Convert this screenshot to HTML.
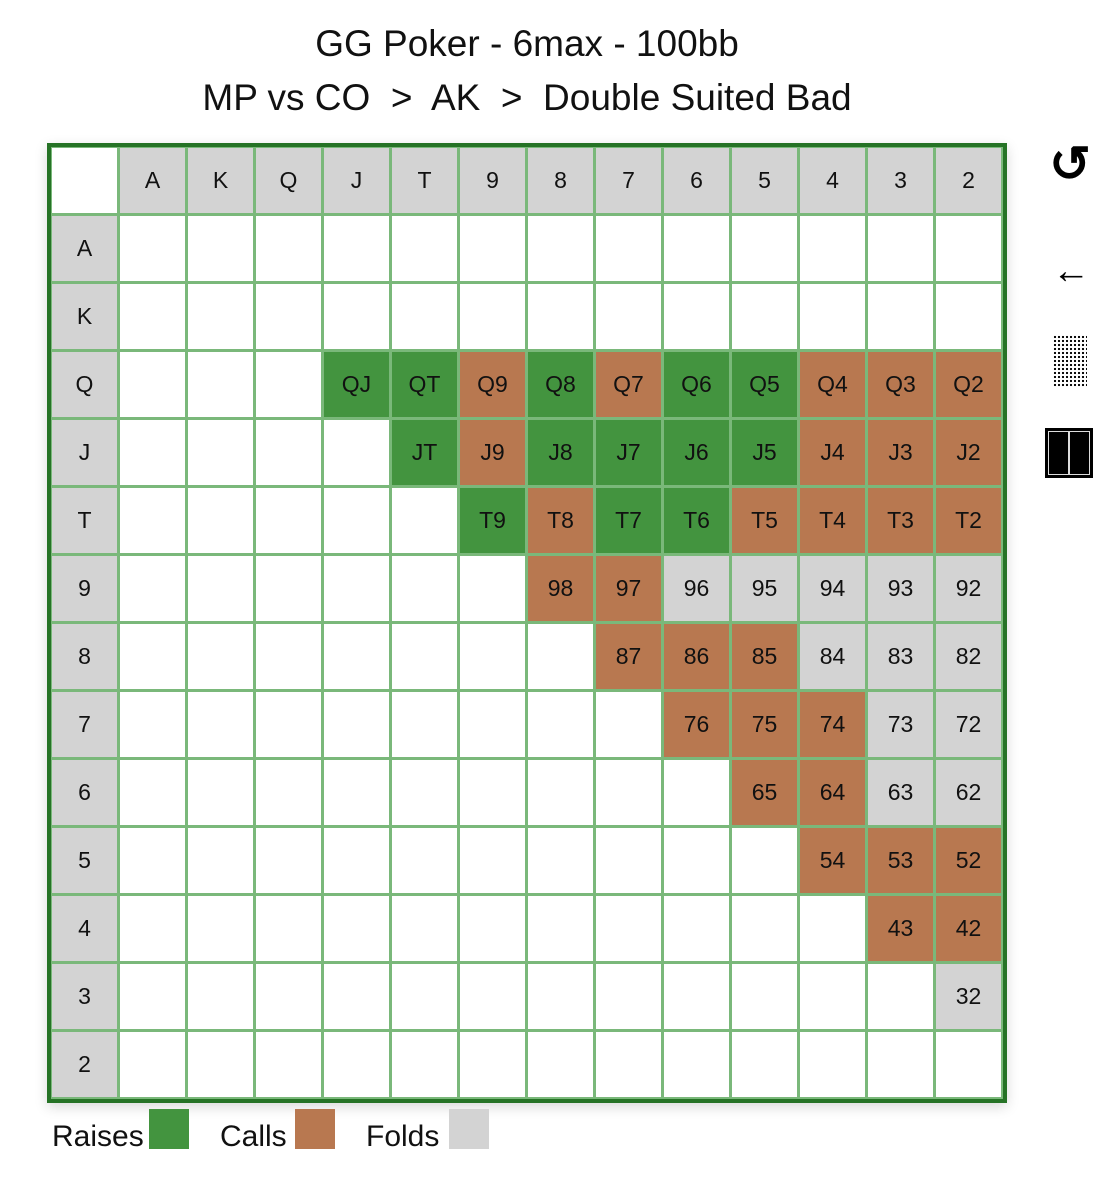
<!DOCTYPE html>
<html><head><meta charset="utf-8"><style>
body{margin:0;width:1112px;height:1178px;background:#fff;font-family:"Liberation Sans",sans-serif;position:relative;overflow:hidden}
.t{position:absolute;left:0;width:1054px;text-align:center;font-size:37px;color:#111}
#grid{position:absolute;left:47px;top:143px;width:952px;height:952px;border:4px solid #267326;background:#7ab87a;box-shadow:0 4px 12px rgba(0,0,0,0.15)}
.c{position:absolute;width:65px;height:65px;display:flex;align-items:center;justify-content:center;font-size:23px;color:#111}
.lg{position:absolute;font-size:30px;color:#111}
.sq{position:absolute;width:40px;height:40px;top:1109px}
</style></head><body>
<div class="t" style="top:23px">GG Poker - 6max - 100bb</div>
<div class="t" style="top:77px">MP vs CO &nbsp;&gt;&nbsp; AK &nbsp;&gt;&nbsp; Double Suited Bad</div>
<div id="grid"></div>
<div style="position:absolute;left:1049px;top:134px;font-size:50px;font-weight:bold;line-height:60px">↺</div>
<div style="position:absolute;left:1052px;top:250px;font-size:38px">←</div>
<div style="position:absolute;left:1053px;top:335px;width:34px;height:52px;background-image:radial-gradient(#000 1px,transparent 1.3px);background-size:4px 4px"></div>
<div style="position:absolute;left:1045px;top:428px;width:48px;height:50px;background:#000"><div style="position:absolute;left:3px;top:3px;width:40px;height:42px;border:1px solid #ddd"></div><div style="position:absolute;left:23px;top:3px;width:2px;height:44px;background:#ddd"></div></div>
<div class="lg" style="left:52px;top:1120px">Raises</div>
<div class="sq" style="left:149px;background:#43943f"></div>
<div class="lg" style="left:220px;top:1120px">Calls</div>
<div class="sq" style="left:295px;background:#b87850"></div>
<div class="lg" style="left:366px;top:1120px">Folds</div>
<div class="sq" style="left:449px;background:#d3d3d3"></div>
<script>
const ranks=["A","K","Q","J","T","9","8","7","6","5","4","3","2"];
const raises=["QJ","QT","Q8","Q6","Q5","JT","J8","J7","J6","J5","T9","T7","T6"];
const calls=["Q9","Q7","Q4","Q3","Q2","J9","J4","J3","J2","T8","T5","T4","T3","T2","98","97","87","86","85","76","75","74","65","64","54","53","52","43","42"];
const folds=["96","95","94","93","92","84","83","82","73","72","63","62","32"];
const g=document.getElementById('grid');
function cell(r,c,txt,bg,name){
  const d=document.createElement('div');
  d.className='c';
  d.style.left=(1+68*c)+'px';d.style.top=(1+68*r)+'px';d.style.background=bg;
  d.textContent=txt;
  
  
  g.appendChild(d);
}
cell(0,0,'','#fff','corner-cell');
ranks.forEach((k,i)=>{cell(0,i+1,k,'#d3d3d3','col-header-'+k);cell(i+1,0,k,'#d3d3d3','row-header-'+k);});
for(let i=0;i<13;i++)for(let j=0;j<13;j++){
  const h=ranks[i]+ranks[j];
  let bg='#fff',txt='';
  if(raises.includes(h)){bg='#43943f';txt=h;}
  else if(calls.includes(h)){bg='#b87850';txt=h;}
  else if(folds.includes(h)){bg='#d3d3d3';txt=h;}
  const d=document.createElement('div');
  d.className='c';
  d.style.left=(1+68*(j+1))+'px';d.style.top=(1+68*(i+1))+'px';d.style.background=bg;
  d.textContent=txt;
  
  
  g.appendChild(d);
}
</script>
</body></html>
